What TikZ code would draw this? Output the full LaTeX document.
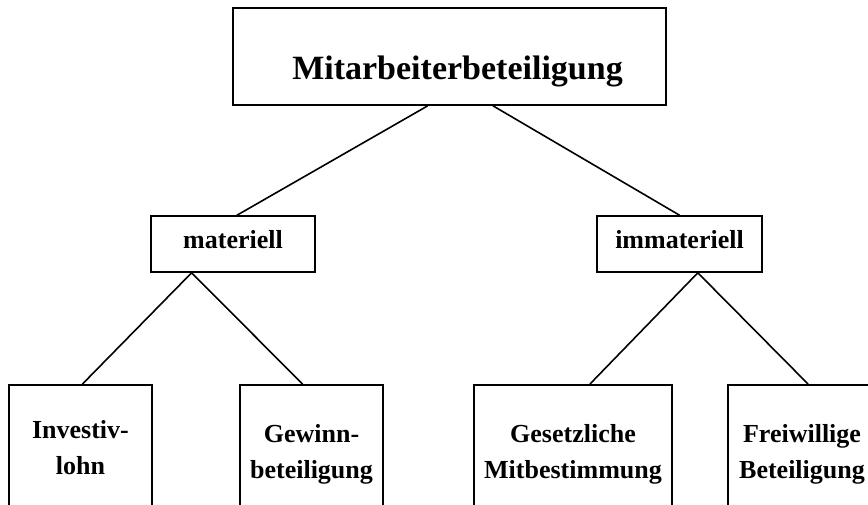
\documentclass[tikz,border=0pt]{standalone}
\usepackage{fontspec}
\setmainfont{Liberation Serif}
\usetikzlibrary{calc}
\begin{document}
\begin{tikzpicture}[x=1pt,y=-1pt,
  box/.style={draw,line width=1.6pt,inner sep=0pt,font=\bfseries},
  topbox/.style={box,minimum width=433pt,minimum height=97pt,font=\fontsize{34}{40}\selectfont\bfseries,text height=52pt,text depth=7pt},
  midbox/.style={box,minimum width=164pt,minimum height=56pt,font=\fontsize{26}{30}\selectfont\bfseries,text height=18pt,text depth=10pt},
  lowbox/.style={box,anchor=north,minimum height=140pt,align=center,font=\fontsize{26}{36}\selectfont\bfseries},
  conn/.style={line width=1.6pt}]
\useasboundingbox (0,0) rectangle (868,504);
\clip (0,0) rectangle (868,504);
\node[topbox] (top) at (449.5,56.5) {\hspace*{16pt}Mitarbeiterbeteiligung};
\node[midbox] (mat) at (233,244) {materiell};
\node[midbox,minimum width=165pt] (imm) at (679.5,244) {immateriell};
\node[lowbox,minimum width=143pt] (inv) at (80.5,384) {Investiv-\\lohn\vphantom{g}\rule[-14pt]{0pt}{1pt}};
\node[lowbox,minimum width=143pt] (gew) at (311.5,384) {Gewinn-\\beteiligung};
\node[lowbox,minimum width=198pt] (ges) at (573,384) {Gesetzliche\\Mitbestimmung};
\node[lowbox,minimum width=148pt] (frei) at (802,384) {Freiwillige\\Beteiligung};
\coordinate (tl) at ($(top.south west)!0.45!(top.south east)$);
\coordinate (tr) at ($(top.south west)!0.60!(top.south east)$);
\coordinate (ma) at ($(mat.south west)!0.25!(mat.south east)$);
\coordinate (ia) at ($(imm.south west)!0.61!(imm.south east)$);
\draw[conn] (tl) -- ([xshift=4pt]mat.north);
\draw[conn] (tr) -- (imm.north);
\draw[conn] (ma) -- ([xshift=2pt]inv.north);
\draw[conn] (ma) -- ([xshift=-9pt]gew.north);
\draw[conn] (ia) -- ([xshift=17pt]ges.north);
\draw[conn] (ia) -- ([xshift=6pt]frei.north);
\end{tikzpicture}
\end{document}
